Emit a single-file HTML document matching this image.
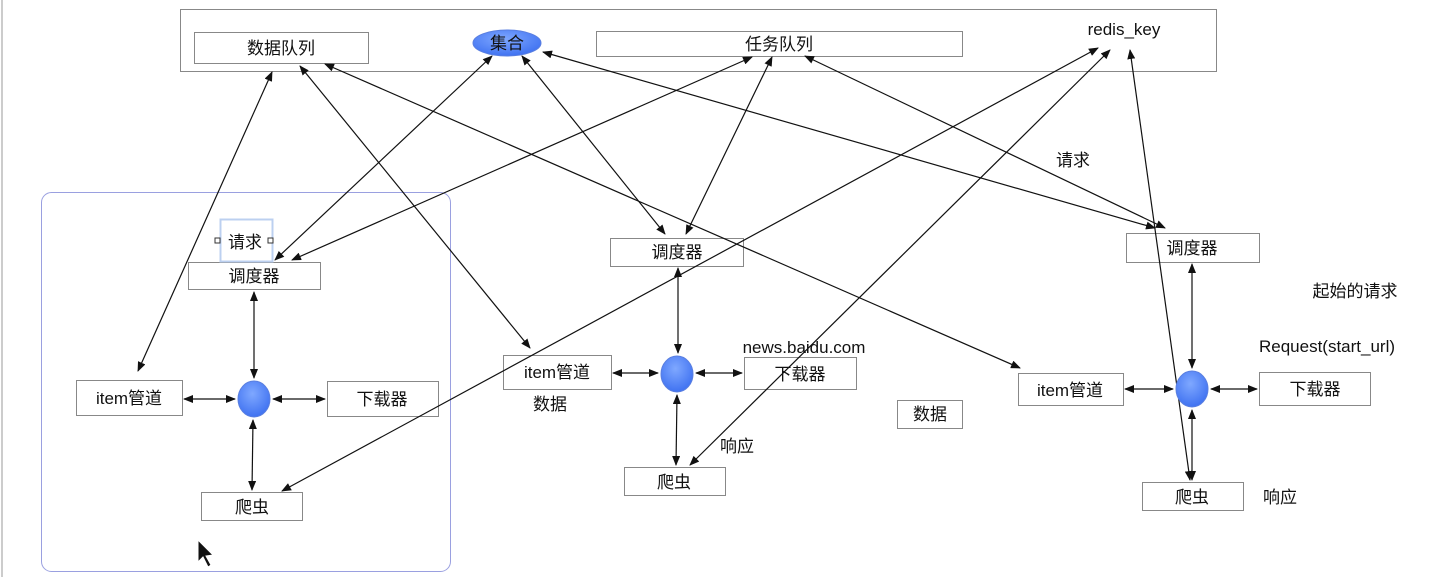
<!DOCTYPE html>
<html><head><meta charset="utf-8"><style>
html,body{margin:0;padding:0;background:#fff;}
svg{display:block;}
text{font-family:"Liberation Sans","Noto Sans CJK SC",sans-serif;font-size:17px;fill:#111;}
</style></head><body>
<svg width="1436" height="577" viewBox="0 0 1436 577" xmlns="http://www.w3.org/2000/svg">
<defs>
<marker id="a" markerWidth="10" markerHeight="8" refX="9" refY="4" orient="auto-start-reverse" markerUnits="userSpaceOnUse">
<path d="M0,0 L10,4 L0,8 z" fill="#111"/></marker>
<radialGradient id="g" cx="45%" cy="35%" r="70%"><stop offset="0" stop-color="#7fa8ff"/><stop offset="1" stop-color="#3b6ef0"/></radialGradient>
</defs>
<line x1="2" y1="0" x2="2" y2="577" stroke="#ccc" stroke-width="2"/>
<rect x="180.5" y="9.5" width="1036" height="62" fill="none" stroke="#888"/>
<rect x="194.5" y="32.5" width="174" height="31" fill="#fff" stroke="#888"/>
<ellipse cx="507" cy="43" rx="34" ry="13" fill="url(#g)" stroke="#5a7fe0"/>
<rect x="596.5" y="31.5" width="366" height="25" fill="#fff" stroke="#888"/>
<rect x="41.5" y="192.5" width="409" height="379" rx="10" fill="none" stroke="#9aa0e0"/>
<g fill="#fff" stroke="#888">
<rect x="188.5" y="262.5" width="132" height="27"/>
<rect x="76.5" y="380.5" width="106" height="35"/>
<rect x="327.5" y="381.5" width="111" height="35"/>
<rect x="201.5" y="492.5" width="101" height="28"/>
<rect x="610.5" y="238.5" width="133" height="28"/>
<rect x="503.5" y="355.5" width="108" height="34"/>
<rect x="744.5" y="357.5" width="112" height="32"/>
<rect x="624.5" y="467.5" width="101" height="28"/>
<rect x="1126.5" y="233.5" width="133" height="29"/>
<rect x="1018.5" y="373.5" width="105" height="32"/>
<rect x="1259.5" y="372.5" width="111" height="33"/>
<rect x="1142.5" y="482.5" width="101" height="28"/>
<rect x="897.5" y="400.5" width="65" height="28"/>
</g>
<g stroke="#111" stroke-width="1.2" marker-start="url(#a)" marker-end="url(#a)">
<line x1="272" y1="72" x2="138" y2="371"/>
<line x1="300" y1="66" x2="530" y2="348"/>
<line x1="325" y1="64" x2="1020" y2="368"/>
<line x1="492" y1="56" x2="275" y2="260"/>
<line x1="522" y1="56" x2="665" y2="234"/>
<line x1="543" y1="52" x2="1155" y2="228"/>
<line x1="752" y1="57" x2="292" y2="260"/>
<line x1="772" y1="57" x2="686" y2="234"/>
<line x1="805" y1="56" x2="1165" y2="228"/>
<line x1="1098" y1="48" x2="282" y2="491"/>
<line x1="1110" y1="50" x2="690" y2="465"/>
<line x1="1130" y1="50" x2="1190" y2="480"/>
<line x1="254" y1="292" x2="254" y2="378"/>
<line x1="184" y1="399" x2="235" y2="399"/>
<line x1="273" y1="399" x2="325" y2="399"/>
<line x1="253" y1="420" x2="252" y2="490"/>
<line x1="678" y1="268" x2="678" y2="353"/>
<line x1="613" y1="373" x2="658" y2="373"/>
<line x1="696" y1="373" x2="742" y2="373"/>
<line x1="677" y1="395" x2="676" y2="465"/>
<line x1="1192" y1="264" x2="1192" y2="368"/>
<line x1="1125" y1="389" x2="1173" y2="389"/>
<line x1="1211" y1="389" x2="1257" y2="389"/>
<line x1="1192" y1="410" x2="1192" y2="480"/>
</g>
<g fill="url(#g)" stroke="#5a7fe0">
<ellipse cx="254" cy="399" rx="16" ry="18"/>
<ellipse cx="677" cy="374" rx="16" ry="18"/>
<ellipse cx="1192" cy="389" rx="16" ry="18"/>
</g>
<rect x="220.5" y="219.5" width="52" height="42" fill="none" stroke="#bcd0f0" stroke-width="2"/>
<rect x="215" y="238" width="5" height="5" fill="#fff" stroke="#333"/>
<rect x="268" y="238" width="5" height="5" fill="#fff" stroke="#333"/>
<g text-anchor="middle">
<text x="281" y="54">数据队列</text>
<text x="507" y="49">集合</text>
<text x="779" y="50">任务队列</text>
<text x="1124" y="35">redis_key</text>
<text x="245" y="248">请求</text>
<text x="254" y="282">调度器</text>
<text x="129" y="404">item管道</text>
<text x="382" y="405">下载器</text>
<text x="252" y="513">爬虫</text>
<text x="677" y="258">调度器</text>
<text x="557" y="378">item管道</text>
<text x="800" y="380">下载器</text>
<text x="674" y="488">爬虫</text>
<text x="1192" y="254">调度器</text>
<text x="1070" y="396">item管道</text>
<text x="1315" y="395">下载器</text>
<text x="1192" y="503">爬虫</text>
<text x="930" y="420">数据</text>
<text x="550" y="410">数据</text>
<text x="804" y="353">news.baidu.com</text>
<text x="737" y="452">响应</text>
<text x="1280" y="503">响应</text>
<text x="1355" y="297">起始的请求</text>
<text x="1327" y="352">Request(start_url)</text>
<text x="1073" y="166">请求</text>
</g>
<path d="M198,540 L198,562 L203,557 L208,567 L211,565 L206,556 L213,555 Z" fill="#111" stroke="#fff" stroke-width="1"/>
</svg>
</body></html>
